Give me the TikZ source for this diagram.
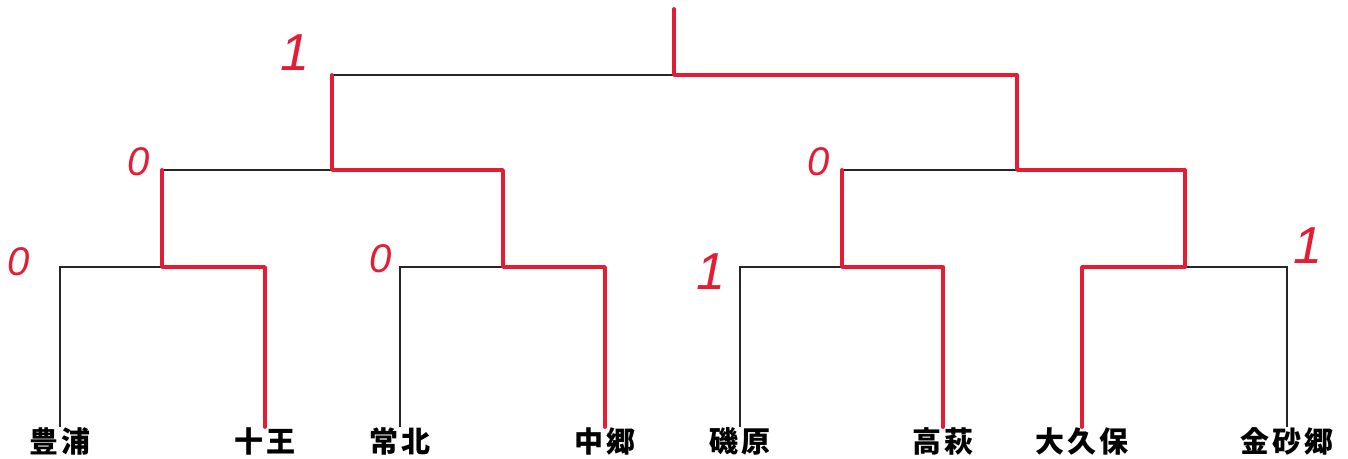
\documentclass[tikz,border=0pt]{standalone}
\usepackage{fontspec}
\newfontfamily\cjk[LetterSpace=9]{Noto Sans CJK JP}
\newfontfamily\hand{Liberation Sans}
\definecolor{pen}{RGB}{228,28,52}
\tikzset{
  team/.style={anchor=north, inner sep=0pt, font=\cjk\bfseries\fontsize{14.5}{15}\selectfont},
  bracket/.style={draw=black!85, line width=0.6pt},
  win/.style={draw=pen, line width=1.9pt, line join=round, line cap=round},
  score/.style={text=pen, font=\hand\itshape\fontsize{20}{20}\selectfont},
  scoreone/.style={score, font=\hand\itshape\fontsize{26}{26}\selectfont}
}

\begin{document}
\begin{tikzpicture}[x=0.5pt, y=-0.5pt]
  \useasboundingbox (0,0) rectangle (1348,459);

  % teams
  \foreach \n/\x/\t in {a/60/豊浦, b/265/十王, c/400/常北, d/605/中郷,
                        e/740/磯原, f/943/高萩, g/1082/大久保, h/1287/金砂郷}
    \node [team] (\n) at (\x,427) {\t};

  % match points
  \coordinate (q1) at (162,267);
  \coordinate (q2) at (503,267);
  \coordinate (q3) at (842,267);
  \coordinate (q4) at (1185,267);
  \coordinate (s1) at (332,170);
  \coordinate (s2) at (1017,170);
  \coordinate (fin) at (674,75);
  \coordinate (top) at (674,9);

  % bracket
  \draw [bracket] (a.north) |- (q1) -| (b.north);
  \draw [bracket] (c.north) |- (q2) -| (d.north);
  \draw [bracket] (e.north) |- (q3) -| (f.north);
  \draw [bracket] (g.north) |- (q4) -| (h.north);
  \draw [bracket] (q1) |- (s1) -| (q2);
  \draw [bracket] (q3) |- (s2) -| (q4);
  \draw [bracket] (s1) |- (fin) -| (s2);
  \draw [bracket] (fin) -- (top);

  % winners
  \draw [win] (b.north) |- (q1) -- (q1 |- s1);
  \draw [win] (d.north) |- (q2) |- (s1) -- (s1 |- fin);
  \draw [win] (f.north) |- (q3) -- (q3 |- s2);
  \draw [win] (g.north) |- (q4) |- (s2) |- (fin) -- (top);

  % scores
  \node [score] (sa) at (19,262) {0};
  \node [score] (sc) at (381,259) {0};
  \node [score] (sq1) at (139,162) {0};
  \node [score] (sq3) at (819,162) {0};
  \node [scoreone] (ss1) at (295,53) {1};
  \node [scoreone] (se) at (711,272) {1};
  \node [scoreone] (sh) at (1308,246) {1};

\end{tikzpicture}
\end{document}
